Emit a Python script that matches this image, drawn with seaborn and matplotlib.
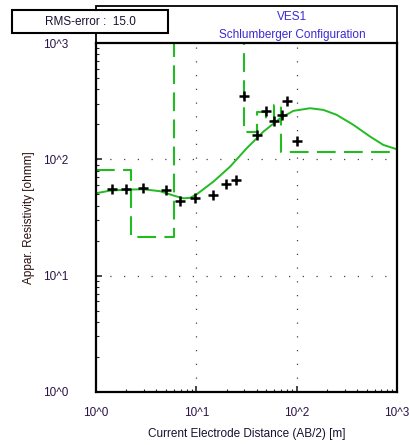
import numpy as np
import pandas as pd
import seaborn as sns
import matplotlib.pyplot as plt
from matplotlib.patches import Rectangle

# measured apparent resistivity (field data)
ab2_obs = [1.46, 1.97, 2.96, 4.95, 6.88, 9.77, 14.7, 19.6, 24.7,
           30.1, 40.0, 49.2, 59.5, 70.7, 79.3, 99.7]
rho_obs = [55.6, 55.6, 56.8, 54.0, 43.5, 46.3, 49.4, 60.8, 66.5,
           351, 161, 261, 214, 241, 318, 145]

# calculated (model) curve
ab2_calc = [1.0, 1.38, 2.02, 2.96, 4.35, 6.13, 7.42, 8.65, 10.1, 14.8,
            21.7, 31.8, 46.6, 68.3, 92.7, 136, 184.5, 251, 367, 539,
            731, 1000]
rho_calc = [51.1, 53.8, 54.9, 55.3, 53.2, 48.4, 46.3, 46.6, 50.1, 64.3,
            86.5, 124.6, 173, 225, 261, 275, 266, 241, 198, 157,
            133, 122]

# layered model (steps)
layer_depth = [1.0, 2.22, 5.99, 30.1, 40.0, 49.2, 59.5, 69.4, 1000]
layer_rho = [81.1, 21.6, 5000, 172, 254, 213, 294, 116.5, 116.5]

sns.set_style("white")
plt.rcParams['font.family'] = ['Liberation Sans', 'DejaVu Sans']

fig = plt.figure(figsize=(4.09, 4.45), dpi=100)
ax = fig.add_axes([96/409, 1 - 392/445, 301/409, 349/445])

green = '#22bb22'
obs = pd.DataFrame({'x': ab2_obs, 'y': rho_obs})
calc = pd.DataFrame({'x': ab2_calc, 'y': rho_calc})
model = pd.DataFrame({'x': layer_depth, 'y': layer_rho})

sns.lineplot(data=calc, x='x', y='y', ax=ax, color=green, lw=1.4)
sns.lineplot(data=model, x='x', y='y', ax=ax, color=green, lw=1.5,
             drawstyle='steps-post', dashes=False, linestyle=(0, (9, 4)))
sns.scatterplot(data=obs, x='x', y='y', ax=ax, marker='+', color='black',
                s=55, linewidth=1.8, zorder=5)

ax.set_xscale('log')
ax.set_yscale('log')
ax.set_xlim(1, 1000)
ax.set_ylim(1, 1000)

tick_txt = ['10^0', '10^1', '10^2', '10^3']
lab_col = '#2a1445'
ax.set_xticks([1, 10, 100, 1000])
ax.set_xticklabels(tick_txt, color=lab_col, fontsize=8.5)
ax.set_yticks([1, 10, 100, 1000])
ax.set_yticklabels(tick_txt, color=lab_col, fontsize=8.5)
ax.tick_params(axis='both', which='major', direction='in', length=4, width=1.2,
               left=True, bottom=True)
ax.tick_params(axis='x', which='major', pad=11)
ax.tick_params(axis='y', which='major', pad=20)
ax.tick_params(axis='both', which='minor', direction='in', length=2.5, width=0.8,
               left=True, bottom=True)

for d in [10, 100]:
    ax.axhline(d, color='#444444', lw=0.9, linestyle=(0, (1, 10)), zorder=0)
    ax.axvline(d, color='#444444', lw=0.9, linestyle=(0, (1, 10)), zorder=0)

for s in ax.spines.values():
    s.set_color('black')
    s.set_linewidth(1.6)

ax.set_xlabel('Current Electrode Distance (AB/2) [m]', fontsize=8.5,
              color='#1a1030', labelpad=6)
ax.set_ylabel('Appar. Resistivity [ohmm]', fontsize=8.5, color='#2a1010',
              labelpad=6)

# title box
fig.patches.append(Rectangle((96/409, 1 - 43/445), 301/409, 37/445,
                             transform=fig.transFigure, fill=False,
                             edgecolor='black', lw=1.3))
fig.text(292/409, 1 - 17/445, 'VES1', ha='center', va='center',
         fontsize=8.5, color='#3a2ad0')
fig.text(292/409, 1 - 35/445, 'Schlumberger Configuration', ha='center',
         va='center', fontsize=8.5, color='#3a2ad0')

# rms box
fig.patches.append(Rectangle((12/409, 1 - 33/445), 156/409, 23/445,
                             transform=fig.transFigure, facecolor='white',
                             edgecolor='black', lw=1.5, zorder=3))
fig.text(90/409, 1 - 22/445, 'RMS-error :  15.0', ha='center', va='center',
         fontsize=8.5, color='#1a1030', zorder=4)

fig.savefig('out.png', dpi=100)
